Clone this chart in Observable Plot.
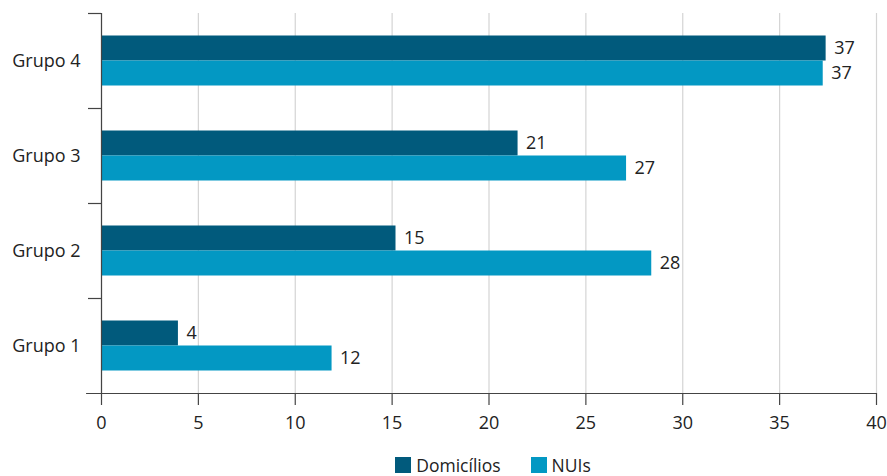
<!DOCTYPE html>
<html>
<head>
<meta charset="utf-8">
<script src="https://cdn.jsdelivr.net/npm/d3@7"></script>
<script src="https://cdn.jsdelivr.net/npm/@observablehq/plot@0.6"></script>
<style>
  html, body { margin: 0; padding: 0; background: #fff; }
  body { width: 887px; font-family: "Open Sans", sans-serif; }
  #legend { box-sizing: border-box; width: 887px; padding-left: 110px; padding-right: 11px; display: flex; justify-content: center; gap: 30px; font-size: 17.5px; color: #222; margin-top: 11px; line-height: 18px; }
  .item { display: flex; align-items: center; gap: 5px; }
  .sw { width: 16px; height: 16px; display: inline-block; }
</style>
</head>
<body>
<div id="chart"></div>
<div id="legend"></div>
<script>
const groups = ["Grupo 1", "Grupo 2", "Grupo 3", "Grupo 4"];
const domicilios = [3.97, 15.2, 21.5, 37.4];
const nuis = [11.9, 28.4, 27.1, 37.25];
const domLabels = ["4", "15", "21", "37"];
const nuiLabels = ["12", "28", "27", "37"];
const series = ["Domicílios", "NUIs"];
const colors = ["#015a7c", "#0398c3"];
const xTicks = [0, 5, 10, 15, 20, 25, 30, 35, 40];

const rows = [];
groups.forEach((g, i) => {
  rows.push({group: g, series: series[0], value: domicilios[i], label: domLabels[i]});
  rows.push({group: g, series: series[1], value: nuis[i], label: nuiLabels[i]});
});
const dom = rows.filter(d => d.series === series[0]);
const nui = rows.filter(d => d.series === series[1]);
const yDomain = groups.slice().reverse();
const lowest = groups[0];

const chart = Plot.plot({
  width: 887,
  height: 445,
  marginLeft: 101,
  marginRight: 11,
  marginTop: 13,
  marginBottom: 52,
  style: {fontFamily: "Open Sans, sans-serif", fontSize: "18px", color: "#222", background: "#fff"},
  x: {domain: [0, 40]},
  y: {domain: yDomain, padding: 0},
  color: {domain: series, range: colors},
  marks: [
    Plot.gridX(xTicks, {stroke: "#d4d4d4", strokeOpacity: 1, strokeWidth: 1.2}),
    Plot.barX(dom, {x: "value", y: "group", fill: "series", insetTop: 22.5, insetBottom: 47.5}),
    Plot.barX(nui, {x: "value", y: "group", fill: "series", insetTop: 47.5, insetBottom: 22.5}),
    Plot.text(dom, {x: "value", y: "group", text: "label", dy: -12.5, dx: 8, textAnchor: "start", fill: "#222", fontSize: 18}),
    Plot.text(nui, {x: "value", y: "group", text: "label", dy: 12.5, dx: 8, textAnchor: "start", fill: "#222", fontSize: 18}),
    Plot.ruleX([0], {stroke: "#444", strokeWidth: 1.2}),
    Plot.ruleY(groups, {y: d => d, dy: -47.5, x1: -0.67, x2: 0, stroke: "#444", strokeWidth: 1.2}),
    Plot.ruleY([lowest], {y: d => d, dy: 47.5, x1: -0.77, x2: 40, stroke: "#444", strokeWidth: 1.2}),
    Plot.axisX({ticks: xTicks, tickSize: 12, tickPadding: 11, stroke: "#444", strokeWidth: 1.2, label: null, fontSize: 18}),
    Plot.axisY({tickSize: 0, tickPadding: 21, label: null, fontSize: 18})
  ]
});
document.getElementById("chart").appendChild(chart);

const legend = document.getElementById("legend");
series.forEach((s, i) => {
  const item = document.createElement("span");
  item.className = "item";
  const sw = document.createElement("span");
  sw.className = "sw";
  sw.style.background = colors[i];
  const t = document.createElement("span");
  t.textContent = s;
  item.appendChild(sw);
  item.appendChild(t);
  legend.appendChild(item);
});
</script>
</body>
</html>
